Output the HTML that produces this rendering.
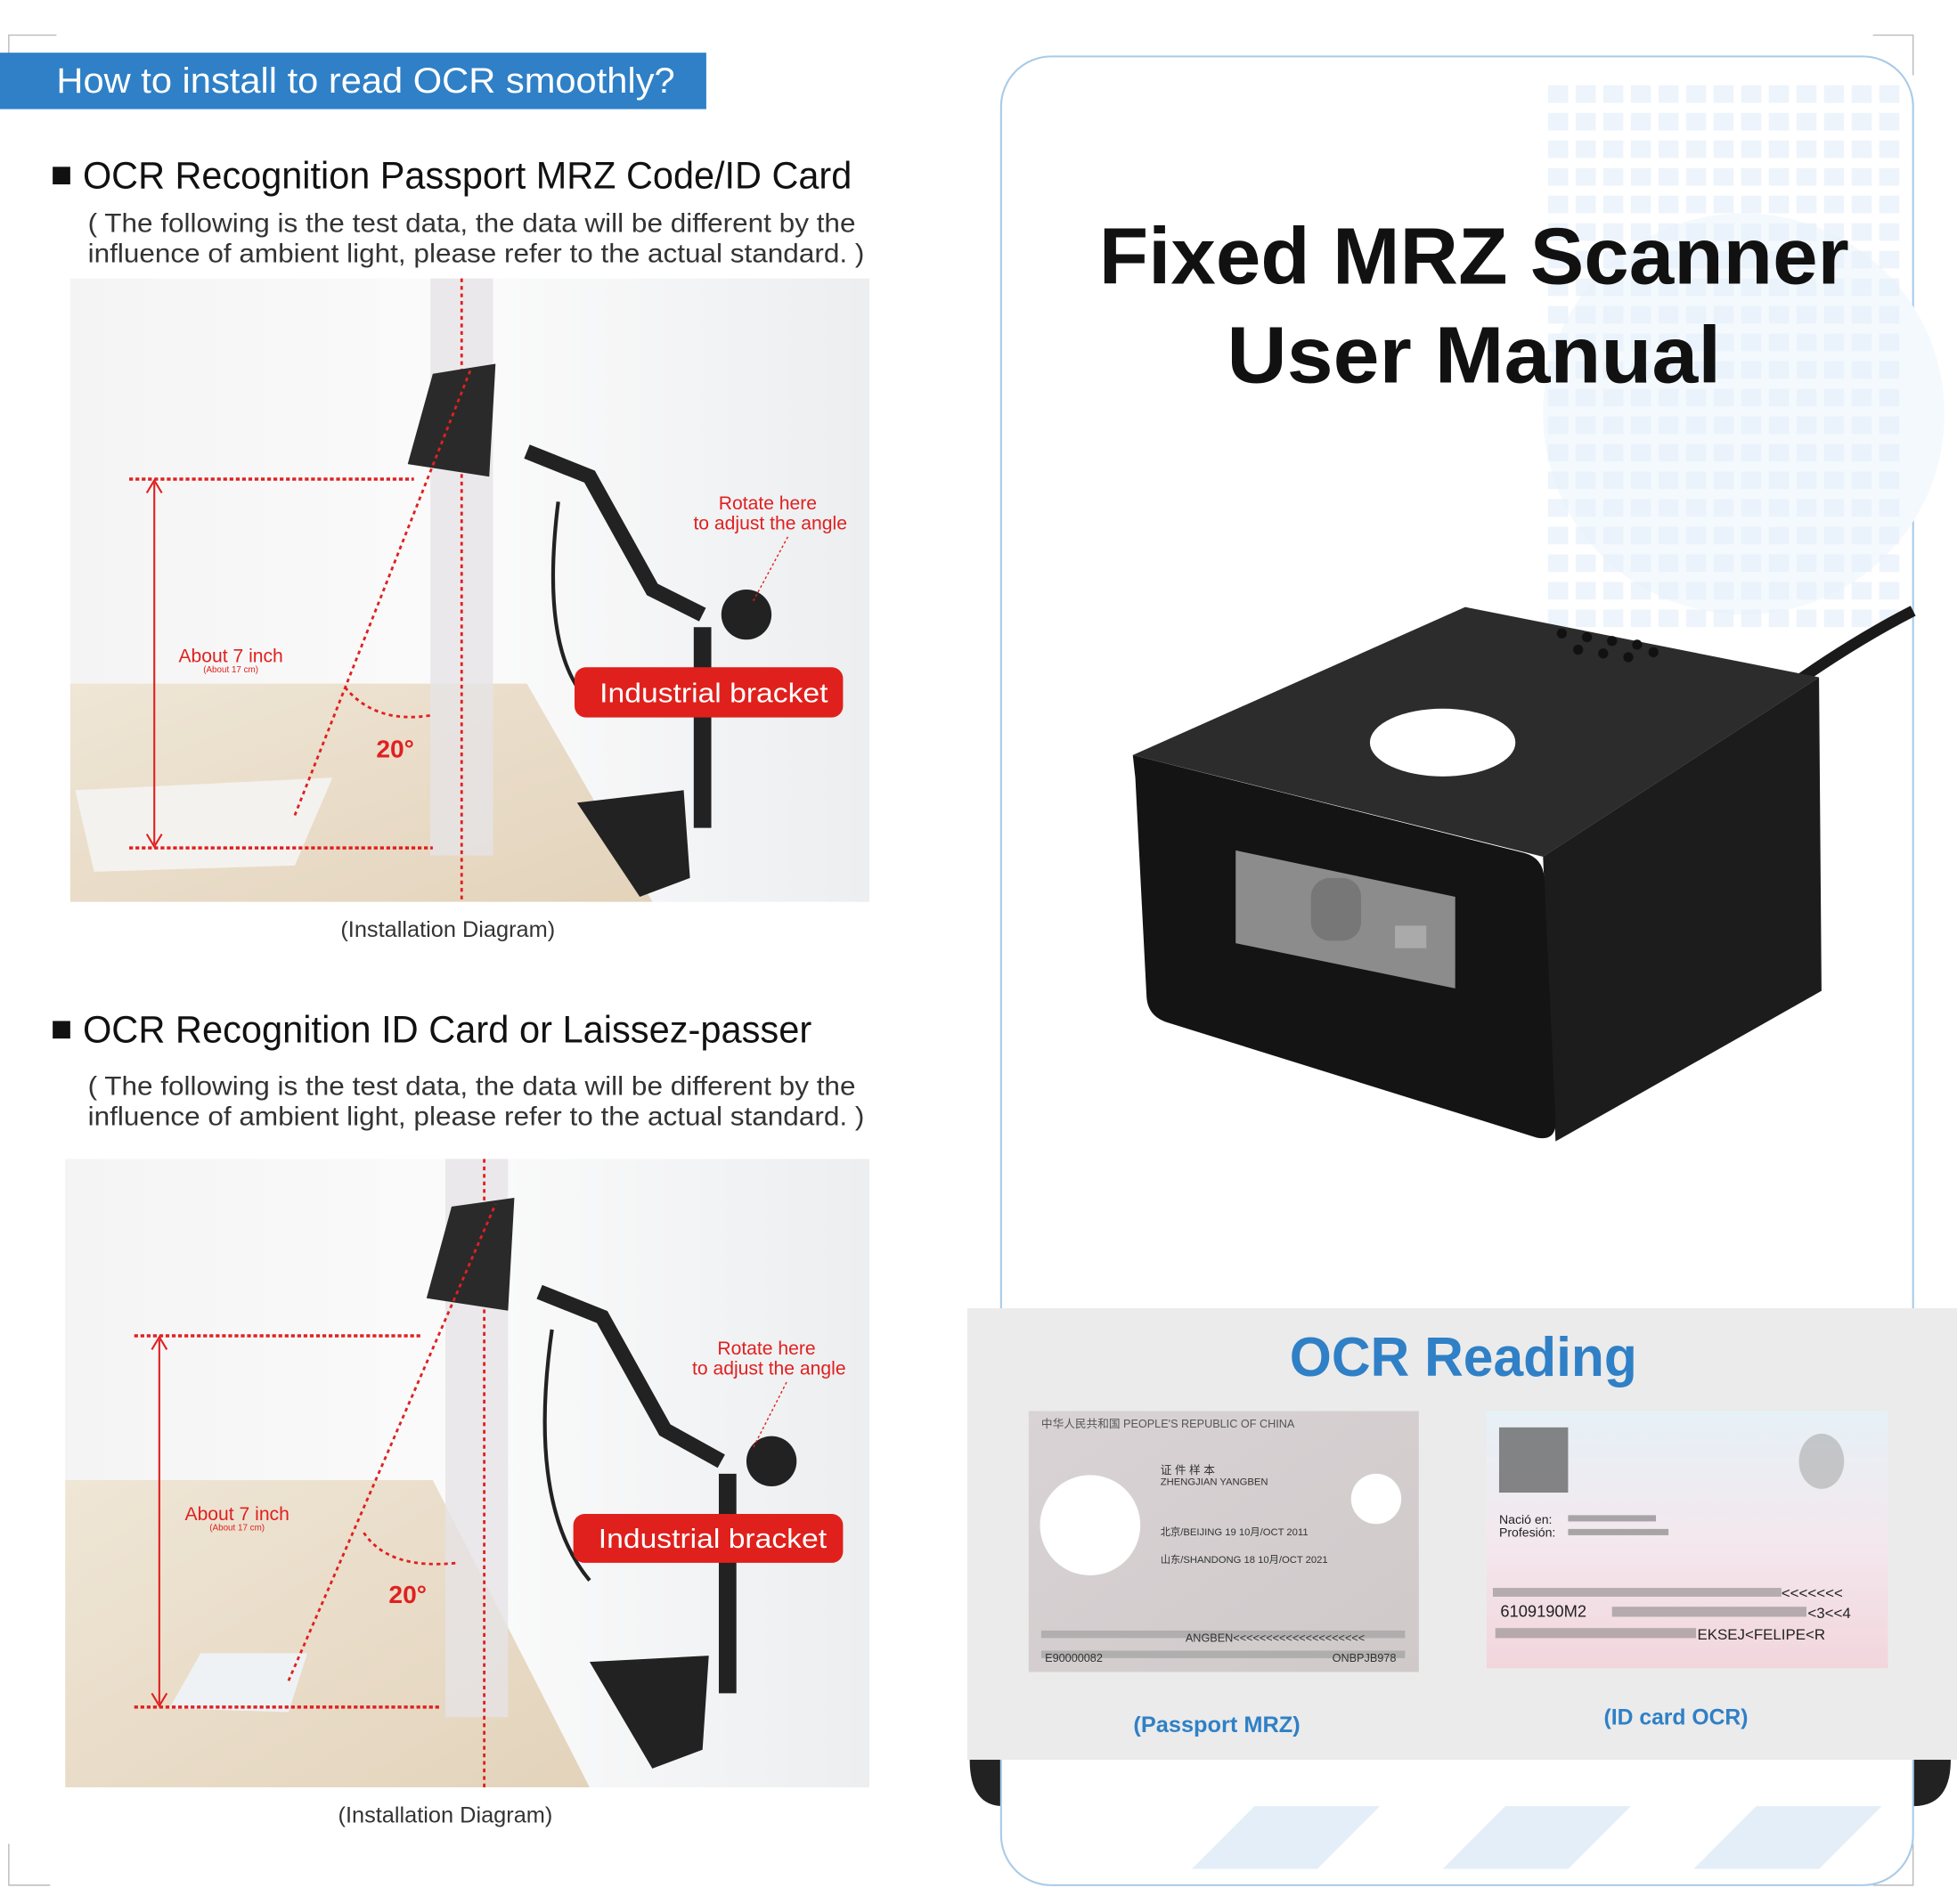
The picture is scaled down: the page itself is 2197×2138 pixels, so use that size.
<!DOCTYPE html>
<html><head><meta charset="utf-8"><style>
html,body{margin:0;padding:0;background:#fff;}
svg{display:block;}
text{font-family:"Liberation Sans",sans-serif;}
</style></head><body>
<svg width="2197" height="2138" viewBox="0 0 1560 1518" preserveAspectRatio="none" xmlns="http://www.w3.org/2000/svg">
<defs>
<linearGradient id="wall" x1="0" y1="0" x2="1" y2="0"><stop offset="0" stop-color="#f4f4f4"/><stop offset="0.5" stop-color="#fbfbfb"/><stop offset="1" stop-color="#eceef0"/></linearGradient>
<linearGradient id="table" x1="0" y1="0" x2="1" y2="1"><stop offset="0" stop-color="#efe6d6"/><stop offset="1" stop-color="#e3d3bb"/></linearGradient>
<linearGradient id="idc" x1="0" y1="0" x2="0" y2="1"><stop offset="0" stop-color="#e6f1f6"/><stop offset="0.5" stop-color="#f3e8ee"/><stop offset="1" stop-color="#f2d6dc"/></linearGradient>
<linearGradient id="pp" x1="0" y1="0" x2="1" y2="1"><stop offset="0" stop-color="#d9d3d6"/><stop offset="1" stop-color="#cfc9c9"/></linearGradient>
<pattern id="sq" width="22" height="22" patternUnits="userSpaceOnUse"><rect x="2" y="2" width="16" height="14" fill="#e8f1fa"/></pattern>
</defs>
<g stroke="#bbb" stroke-width="1" fill="none">
<path d="M7 60V28H45"/><path d="M7 1470V1503H40"/><path d="M1493 28H1525V60"/><path d="M1525 1470V1503H1493"/>
</g>
<rect x="0" y="42" width="563" height="45" fill="#2f80c6"/>
<text x="45" y="74" font-size="28" fill="#fff" textLength="493" lengthAdjust="spacingAndGlyphs">How to install to read OCR smoothly?</text>

<rect x="42" y="133" width="14" height="14" fill="#111"/>
<text x="66" y="150" font-size="30" fill="#111" textLength="613" lengthAdjust="spacingAndGlyphs">OCR Recognition Passport MRZ Code/ID Card</text>
<text x="70" y="185" font-size="21" fill="#333" textLength="612" lengthAdjust="spacingAndGlyphs">( The following is the test data, the data will be different by the</text>
<text x="70" y="209" font-size="21" fill="#333" textLength="619" lengthAdjust="spacingAndGlyphs">influence of ambient light, please refer to the actual standard. )</text>

<g>
<rect x="56" y="222" width="637" height="497" fill="url(#wall)"/>
<polygon points="56,545 420,545 520,719 56,719" fill="url(#table)"/>
<polygon points="60,630 265,620 235,690 75,695" fill="#f4f2ee"/>
<rect x="343" y="222" width="50" height="460" fill="#e6e4e6" opacity="0.8"/>
<line x1="368" y1="222" x2="368" y2="719" stroke="#e02020" stroke-width="2" stroke-dasharray="3,3"/>
<polygon points="345,298 395,290 390,380 325,370" fill="#2a2a2a"/>
<path d="M420 360 L470 380 L520 470 L560 490" stroke="#222" stroke-width="12" fill="none"/>
<path d="M560 500 L560 660" stroke="#222" stroke-width="14" fill="none"/>
<path d="M445 400 Q430 520 470 560" stroke="#222" stroke-width="3" fill="none"/>
<circle cx="595" cy="490" r="20" fill="#222"/>
<polygon points="460,640 545,630 550,700 510,715" fill="#222"/>
<line x1="103" y1="382" x2="330" y2="382" stroke="#e02020" stroke-width="2.5" stroke-dasharray="3,2"/>
<line x1="103" y1="676" x2="345" y2="676" stroke="#e02020" stroke-width="2.5" stroke-dasharray="3,2"/>
<line x1="123" y1="385" x2="123" y2="673" stroke="#e02020" stroke-width="1.5"/>
<path d="M117 393 L123 383 L129 393 M117 665 L123 675 L129 665" stroke="#e02020" stroke-width="1.5" fill="none"/>
<line x1="235" y1="650" x2="375" y2="295" stroke="#e02020" stroke-width="2" stroke-dasharray="3,3"/>
<path d="M275 548 Q300 578 345 570" stroke="#e02020" stroke-width="2" stroke-dasharray="3,3" fill="none"/>
<text x="184" y="528" font-size="15" fill="#e02020" text-anchor="middle">About 7 inch</text>
<text x="184" y="536" font-size="7" fill="#e02020" text-anchor="middle">(About 17 cm)</text>
<text x="315" y="604" font-size="20" fill="#e02020" text-anchor="middle" font-weight="bold">20°</text>
<text x="612" y="406" font-size="15" fill="#e02020" text-anchor="middle">Rotate here</text>
<text x="614" y="422" font-size="15" fill="#e02020" text-anchor="middle">to adjust the angle</text>
<line x1="628" y1="428" x2="600" y2="480" stroke="#e02020" stroke-width="1" stroke-dasharray="2,2"/>
<rect x="458" y="532" width="214" height="40" rx="9" fill="#e0201c"/>
<text x="569" y="560" font-size="22" fill="#fff" text-anchor="middle" textLength="182" lengthAdjust="spacingAndGlyphs">Industrial bracket</text>
</g>
<text x="357" y="747" font-size="18" fill="#333" text-anchor="middle">(Installation Diagram)</text>

<rect x="42" y="814" width="14" height="14" fill="#111"/>
<text x="66" y="831" font-size="30" fill="#111" textLength="581" lengthAdjust="spacingAndGlyphs">OCR Recognition ID Card or Laissez-passer</text>
<text x="70" y="873" font-size="21" fill="#333" textLength="612" lengthAdjust="spacingAndGlyphs">( The following is the test data, the data will be different by the</text>
<text x="70" y="897" font-size="21" fill="#333" textLength="619" lengthAdjust="spacingAndGlyphs">influence of ambient light, please refer to the actual standard. )</text>

<g>
<rect x="52" y="924" width="641" height="501" fill="url(#wall)"/>
<polygon points="52,1180 345,1180 470,1425 52,1425" fill="url(#table)"/>
<polygon points="160,1318 245,1318 230,1365 135,1362" fill="#eef2f4"/>
<rect x="355" y="924" width="50" height="445" fill="#e6e4e6" opacity="0.8"/>
<line x1="386" y1="924" x2="386" y2="1425" stroke="#e02020" stroke-width="2" stroke-dasharray="3,3"/>
<polygon points="360,962 410,955 405,1045 340,1035" fill="#2a2a2a"/>
<path d="M430 1030 L480 1050 L530 1140 L575 1165" stroke="#222" stroke-width="12" fill="none"/>
<path d="M580 1175 L580 1350" stroke="#222" stroke-width="14" fill="none"/>
<path d="M440 1060 Q420 1200 470 1260" stroke="#222" stroke-width="3" fill="none"/>
<circle cx="615" cy="1165" r="20" fill="#222"/>
<polygon points="470,1325 565,1320 560,1395 520,1410" fill="#222"/>
<line x1="107" y1="1065" x2="335" y2="1065" stroke="#e02020" stroke-width="2.5" stroke-dasharray="3,2"/>
<line x1="107" y1="1361" x2="350" y2="1361" stroke="#e02020" stroke-width="2.5" stroke-dasharray="3,2"/>
<line x1="127" y1="1068" x2="127" y2="1358" stroke="#e02020" stroke-width="1.5"/>
<path d="M121 1076 L127 1066 L133 1076 M121 1350 L127 1360 L133 1350" stroke="#e02020" stroke-width="1.5" fill="none"/>
<line x1="230" y1="1340" x2="395" y2="960" stroke="#e02020" stroke-width="2" stroke-dasharray="3,3"/>
<path d="M290 1222 Q310 1252 365 1246" stroke="#e02020" stroke-width="2" stroke-dasharray="3,3" fill="none"/>
<text x="189" y="1212" font-size="15" fill="#e02020" text-anchor="middle">About 7 inch</text>
<text x="189" y="1220" font-size="7" fill="#e02020" text-anchor="middle">(About 17 cm)</text>
<text x="325" y="1278" font-size="20" fill="#e02020" text-anchor="middle" font-weight="bold">20°</text>
<text x="611" y="1080" font-size="15" fill="#e02020" text-anchor="middle">Rotate here</text>
<text x="613" y="1096" font-size="15" fill="#e02020" text-anchor="middle">to adjust the angle</text>
<line x1="627" y1="1102" x2="600" y2="1155" stroke="#e02020" stroke-width="1" stroke-dasharray="2,2"/>
<rect x="457" y="1207" width="215" height="39" rx="9" fill="#e0201c"/>
<text x="568" y="1234" font-size="22" fill="#fff" text-anchor="middle" textLength="182" lengthAdjust="spacingAndGlyphs">Industrial bracket</text>
</g>
<text x="355" y="1453" font-size="18" fill="#333" text-anchor="middle">(Installation Diagram)</text>

<path d="M773 1403 Q773 1440 800 1440 L1525 1440 Q1555 1440 1555 1403 Z" fill="#222"/>
<rect x="798" y="45" width="727" height="1458" rx="40" fill="#fff" stroke="#a9cbe8" stroke-width="1.5"/>
<circle cx="1390" cy="330" r="160" fill="#f4f9fd"/>
<rect x="1230" y="60" width="290" height="440" fill="url(#sq)" opacity="0.8"/>
<g fill="#e3eef8">
<polygon points="950,1490 1000,1440 1100,1440 1050,1490"/><polygon points="1150,1490 1200,1440 1300,1440 1250,1490"/><polygon points="1350,1490 1400,1440 1500,1440 1450,1490"/>
</g>
<text x="876" y="226" font-size="64" font-weight="bold" fill="#111" textLength="598" lengthAdjust="spacingAndGlyphs">Fixed MRZ Scanner</text>
<text x="978" y="305" font-size="64" font-weight="bold" fill="#111" textLength="394" lengthAdjust="spacingAndGlyphs">User Manual</text>

<path d="M1430 545 Q1480 510 1525 487" stroke="#1a1a1a" stroke-width="9" fill="none"/>
<polygon points="903,602 1168,484 1450,540 1230,683" fill="#2c2c2c"/>
<polygon points="1230,683 1450,540 1452,790 1240,910" fill="#1c1c1c"/>
<path d="M903 602 L1215 680 Q1230 684 1231 700 L1240 895 Q1240 910 1225 907 L930 815 Q915 810 914 795 L905 620 Z" fill="#141414"/>
<ellipse cx="1150" cy="592" rx="58" ry="27" fill="#fff"/>
<g fill="#111"><circle cx="1245" cy="505" r="4"/><circle cx="1265" cy="508" r="4"/><circle cx="1285" cy="511" r="4"/><circle cx="1305" cy="514" r="4"/><circle cx="1258" cy="518" r="4"/><circle cx="1278" cy="521" r="4"/><circle cx="1298" cy="524" r="4"/><circle cx="1318" cy="520" r="4"/></g>
<polygon points="985,678 1160,715 1160,788 985,752" fill="#8c8c8c"/>
<rect x="1045" y="700" width="40" height="50" rx="15" fill="#777"/>
<rect x="1112" y="738" width="25" height="18" fill="#aaa"/>

<rect x="771" y="1043" width="789" height="360" fill="#ebebeb"/>
<text x="1028" y="1097" font-size="44" font-weight="bold" fill="#2f80c6" textLength="277" lengthAdjust="spacingAndGlyphs">OCR Reading</text>
<rect x="820" y="1125" width="311" height="208" fill="url(#pp)"/>
<text x="830" y="1138" font-size="9" fill="#555">中华人民共和国  PEOPLE'S REPUBLIC OF CHINA</text>
<circle cx="869" cy="1216" r="40" fill="#fff"/>
<circle cx="1097" cy="1195" r="20" fill="#fff"/>
<text x="925" y="1175" font-size="9" fill="#333">证 件 样 本</text>
<text x="925" y="1184" font-size="8" fill="#333">ZHENGJIAN  YANGBEN</text>
<text x="925" y="1224" font-size="8" fill="#333">北京/BEIJING      19 10月/OCT 2011</text>
<text x="925" y="1246" font-size="8" fill="#333">山东/SHANDONG     18 10月/OCT 2021</text>
<rect x="830" y="1300" width="290" height="6" fill="#999" opacity="0.6"/>
<text x="945" y="1309" font-size="9" fill="#333">ANGBEN&lt;&lt;&lt;&lt;&lt;&lt;&lt;&lt;&lt;&lt;&lt;&lt;&lt;&lt;&lt;&lt;&lt;&lt;&lt;&lt;</text>
<rect x="830" y="1316" width="290" height="6" fill="#999" opacity="0.6"/>
<text x="833" y="1325" font-size="9" fill="#333">E90000082</text>
<text x="1062" y="1325" font-size="9" fill="#333">ONBPJB978</text>
<rect x="1185" y="1125" width="320" height="205" fill="url(#idc)"/>
<rect x="1195" y="1138" width="55" height="52" fill="#555" opacity="0.7"/>
<ellipse cx="1452" cy="1165" rx="18" ry="22" fill="#aaa" opacity="0.6"/>
<text x="1195" y="1215" font-size="10" fill="#222">Nació en:</text>
<text x="1195" y="1225" font-size="10" fill="#222">Profesión:</text>
<rect x="1250" y="1208" width="70" height="5" fill="#777" opacity="0.6"/><rect x="1250" y="1219" width="80" height="5" fill="#777" opacity="0.6"/>
<rect x="1190" y="1266" width="230" height="7" fill="#777" opacity="0.5"/>
<text x="1420" y="1274" font-size="12" fill="#222">&lt;&lt;&lt;&lt;&lt;&lt;&lt;</text>
<text x="1196" y="1289" font-size="13" fill="#222">6109190M2</text>
<rect x="1285" y="1281" width="155" height="8" fill="#777" opacity="0.5"/>
<text x="1441" y="1290" font-size="12" fill="#222">&lt;3&lt;&lt;4</text>
<rect x="1192" y="1298" width="160" height="8" fill="#777" opacity="0.5"/>
<text x="1353" y="1307" font-size="12" fill="#222">EKSEJ&lt;FELIPE&lt;R</text>
<text x="970" y="1381" font-size="18" font-weight="bold" fill="#2f80c6" text-anchor="middle" textLength="133" lengthAdjust="spacingAndGlyphs">(Passport MRZ)</text>
<text x="1336" y="1375" font-size="18" font-weight="bold" fill="#2f80c6" text-anchor="middle" textLength="115" lengthAdjust="spacingAndGlyphs">(ID card OCR)</text>
</svg>
</body></html>
